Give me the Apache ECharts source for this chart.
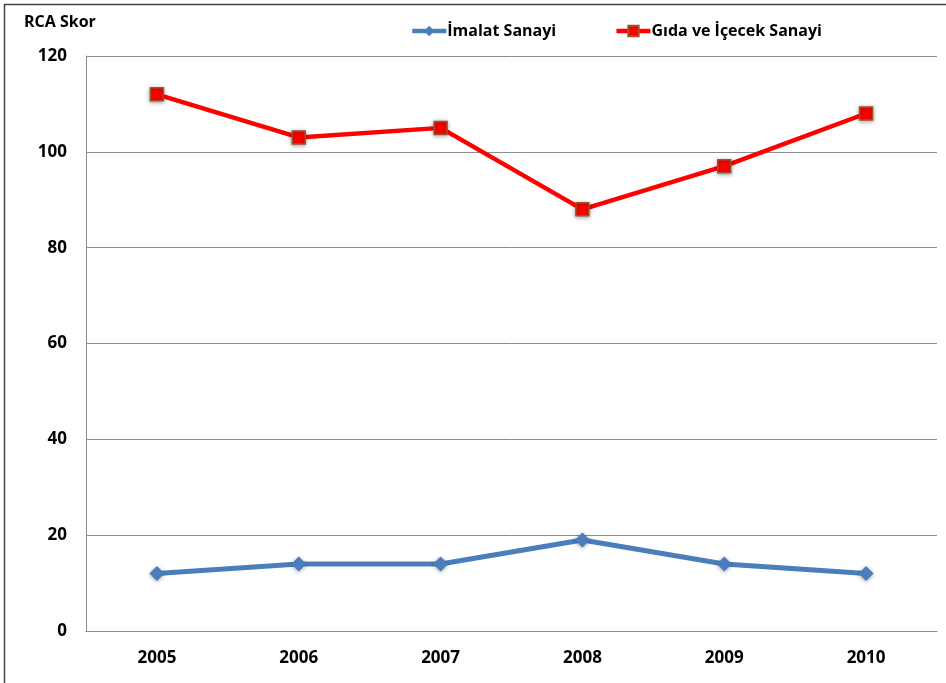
<!DOCTYPE html>
<html>
<head>
<meta charset="utf-8">
<script src="https://cdn.jsdelivr.net/npm/echarts@6/dist/echarts.min.js"></script>
<style>
  html, body { margin: 0; padding: 0; background: #fff; }
  #main { width: 946px; height: 683px; }
</style>
</head>
<body>
<div id="main"></div>
<script>
// veriler
var years = ['2005', '2006', '2007', '2008', '2009', '2010'];
var imalatSanayi = [12, 14, 14, 19, 14, 12];
var gidaIcecek = [112, 103, 105, 88, 97, 108];
var yTicks = [0, 20, 40, 60, 80, 100, 120];

var font = '"Open Sans", "Liberation Sans", sans-serif';

var chart = echarts.init(document.getElementById('main'));

chart.setOption({
  animation: false,
  backgroundColor: '#fff',
  graphic: [{
    type: 'rect',
    shape: { x: 4.5, y: 4.5, width: 980, height: 720 },
    style: { fill: 'none', stroke: '#444', lineWidth: 1.5 }
  }],
  title: {
    text: 'RCA Skor',
    left: 19,
    top: 9,
    textStyle: { fontFamily: font, fontSize: 16, fontWeight: 'bold', color: '#000' }
  },
  legend: {
    top: 18,
    left: 405,
    itemGap: 58,
    itemWidth: 34,
    itemHeight: 13,
    lineStyle: { width: 4.5 },
    textStyle: { fontFamily: font, fontSize: 16, fontWeight: 'bold', color: '#000', padding: [0, 0, 0, -4] },
    data: ['İmalat Sanayi', 'Gıda ve İçecek Sanayi']
  },
  grid: { left: 86, right: 9, top: 56, bottom: 52 },
  xAxis: {
    type: 'category',
    data: years,
    boundaryGap: true,
    axisLine: { lineStyle: { color: '#8c8c8c', width: 1 } },
    axisTick: { show: false },
    axisLabel: { margin: 19, fontFamily: font, fontSize: 17, fontWeight: 'bold', color: '#000' }
  },
  yAxis: {
    type: 'value',
    min: yTicks[0],
    max: yTicks[yTicks.length - 1],
    interval: 20,
    axisLine: { show: true, lineStyle: { color: '#8c8c8c', width: 1 } },
    axisTick: { show: false },
    axisLabel: { margin: 19, fontFamily: font, fontSize: 17, fontWeight: 'bold', color: '#000' },
    splitLine: { lineStyle: { color: '#8c8c8c', width: 1 } }
  },
  series: [
    {
      name: 'İmalat Sanayi',
      type: 'line',
      data: imalatSanayi,
      symbol: 'diamond',
      symbolSize: 15,
      lineStyle: { color: '#4a7ebb', width: 5 },
      itemStyle: { color: '#4a7ebb', shadowColor: 'rgba(0,0,0,0.35)', shadowBlur: 4, shadowOffsetY: 1 }
    },
    {
      name: 'Gıda ve İçecek Sanayi',
      type: 'line',
      data: gidaIcecek,
      symbol: 'rect',
      symbolSize: 13,
      lineStyle: { color: '#ff0000', width: 4.5 },
      itemStyle: { color: '#ff0000', borderColor: '#a0522d', borderWidth: 1.5, shadowColor: 'rgba(0,0,0,0.35)', shadowBlur: 4, shadowOffsetY: 1 }
    }
  ]
});
</script>
</body>
</html>
